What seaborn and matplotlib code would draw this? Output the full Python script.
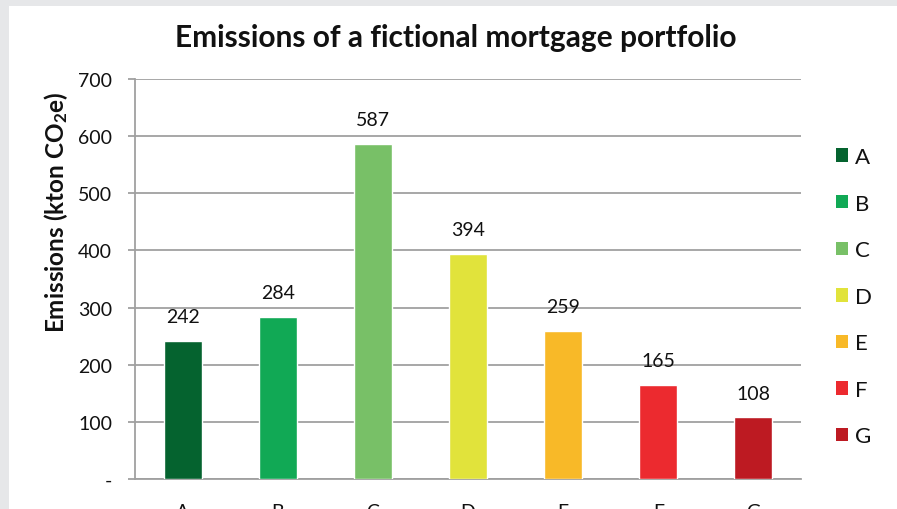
import matplotlib
matplotlib.use("Agg")
import matplotlib.pyplot as plt
import seaborn as sns
import pandas as pd
from matplotlib.patches import Rectangle

categories = ["A", "B", "C", "D", "E", "F", "G"]
values = [242, 284, 587, 394, 259, 165, 108]
colors = ["#05632f", "#11a955", "#78c067", "#e1e33b", "#f8b928", "#ec2a2f", "#bd1a22"]
yticks = [0, 100, 200, 300, 400, 500, 600, 700]
ytick_labels = ["-", "100", "200", "300", "400", "500", "600", "700"]
title = "Emissions of a fictional mortgage portfolio"
ylabel = r"Emissions (kton CO$_2$e)"

sns.set_theme(style="white")
plt.rcParams["font.family"] = ["Lato", "DejaVu Sans"]
plt.rcParams["mathtext.fontset"] = "custom"
plt.rcParams["mathtext.rm"] = "Lato:bold"
plt.rcParams["mathtext.bf"] = "Lato:bold"
plt.rcParams["mathtext.default"] = "bf"

df = pd.DataFrame({"cat": categories, "val": values})

W, H = 897, 510
fig = plt.figure(figsize=(W / 100, H / 100), dpi=100)
fig.patch.set_facecolor("#e6e7e9")
fig.patches.append(Rectangle((9 / W, 0), 1, 1 - 7 / H, transform=fig.transFigure,
                             facecolor="white", edgecolor="none", zorder=-10))

ax = fig.add_axes([135 / W, 1 - 480 / H, (801 - 135) / W, 400 / H])
sns.barplot(data=df, x="cat", y="val", hue="cat", palette=colors, width=0.4,
            legend=False, ax=ax, saturation=1, zorder=3)
ax.set_facecolor("white")
ax.set_ylim(0, 700)
ax.set_xlim(-0.5, 6.5)
ax.set_yticks(yticks)
ax.set_yticklabels(ytick_labels)
ax.yaxis.grid(True, color="#a0a0a0", linewidth=1.3)
ax.set_axisbelow(True)
for s in ["top", "right"]:
    ax.spines[s].set_visible(False)
for s in ["left", "bottom"]:
    ax.spines[s].set_color("#a0a0a0")
    ax.spines[s].set_linewidth(1.3)
ax.set_xticks([i + 0.5 for i in range(-1, 7)], minor=True)
ax.tick_params(axis="x", which="minor", length=5, width=1.3, color="#a0a0a0", direction="out")
ax.tick_params(axis="x", which="major", length=0, labelsize=14, pad=17, labelcolor="#111111")
ax.tick_params(axis="y", length=5, width=1.3, color="#a0a0a0", direction="out",
               labelsize=14, pad=11.5, left=True, labelcolor="#111111")
ax.set_xlabel("")
ax.set_ylabel(ylabel, fontsize=17.5, fontweight="bold", color="#111111")
ax.yaxis.set_label_coords((70 - 135) / 666, (480 - 212) / 400)

for i, v in enumerate(values):
    ax.annotate(str(v), (i, v), xytext=(0, 13.5), textcoords="offset points",
                ha="center", va="baseline", fontsize=14, color="#111111")

fig.text(456 / W, 1 - 38 / H, title, ha="center", va="center", fontsize=21.5,
         fontweight="bold", color="#111111")

handles = [Rectangle((0, 0), 1, 1, facecolor=c, edgecolor="none") for c in colors]
fig.legend(handles, categories, loc="upper left", bbox_to_anchor=(836 / W, 1 - 148 / H),
           frameon=False, fontsize=16, handlelength=0.55, handleheight=0.55,
           handletextpad=0.3, labelspacing=1.195, borderpad=0, borderaxespad=0,
           labelcolor="#111111")

fig.savefig("out.png", dpi=100)
